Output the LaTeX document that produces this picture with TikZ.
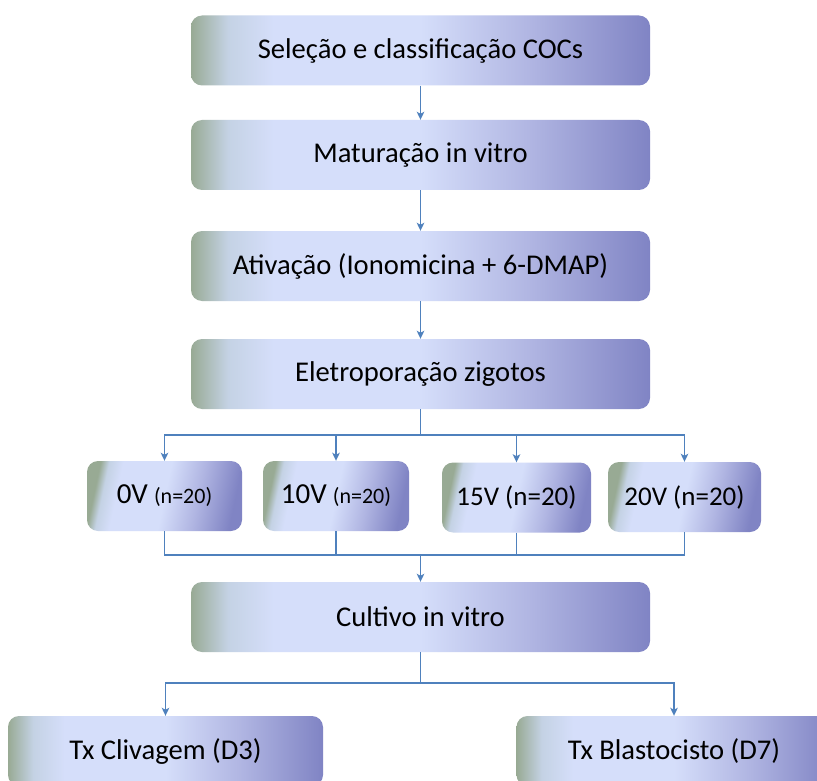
\documentclass[tikz,border=0pt]{standalone}
\usepackage{fontspec}
\setmainfont{Carlito}
\usetikzlibrary{arrows.meta}
\definecolor{gA}{RGB}{152,170,148}
\definecolor{gB}{RGB}{196,210,228}
\definecolor{gC}{RGB}{213,222,250}
\definecolor{gD}{RGB}{176,181,226}
\definecolor{gE}{RGB}{128,132,196}
\definecolor{lnc}{RGB}{79,129,189}
\pgfdeclarehorizontalshading{boxshade}{100bp}{color(0bp)=(gA); color(25bp)=(gA); color(29bp)=(gB); color(34bp)=(gC); color(50bp)=(gC); color(62bp)=(gD); color(75bp)=(gE); color(100bp)=(gE)}
\pgfdeclarehorizontalshading{smallshade}{100bp}{color(0bp)=(gA); color(25bp)=(gA); color(28bp)=(gB); color(33bp)=(gC); color(50bp)=(gC); color(62bp)=(gD); color(75bp)=(gE); color(100bp)=(gE)}
\begin{document}
\begin{tikzpicture}[x=1pt,y=-1pt,
  mainbox/.style={rounded corners=11pt, shading=boxshade, minimum width=459pt, minimum height=70pt, inner sep=0pt, font=\fontsize{28.6}{32}\selectfont, text=black},
  vbox/.style={rounded corners=11pt, shading=smallshade, shading angle=-12, minimum height=70pt, inner sep=0pt, font=\fontsize{27}{32}\selectfont, text=black},
  conn/.style={draw=lnc, line width=1.9pt},
  arr/.style={conn, -{Stealth[length=8pt,width=7.5pt,inset=2pt]}}]
\clip (0,0) rectangle (817,781);
\fill[white] (0,0) rectangle (817,781);
\node[mainbox] (b1) at (420.5,50.5) {Seleção e classificação COCs};
\node[mainbox] (b2) at (420.5,155) {Maturação in vitro};
\node[mainbox] (b3) at (420.5,266) {Ativação (Ionomicina + 6-DMAP)};
\node[mainbox] (b4) at (420.5,374) {Eletroporação zigotos};
\node[vbox, minimum width=155pt] (v0) at (164.5,496) {{\fontsize{29}{32}\selectfont 0V} {\fontsize{22}{26}\selectfont (n=20)}};
\node[vbox, minimum width=146pt] (v10) at (336,496) {{\fontsize{29}{32}\selectfont 10V} {\fontsize{22}{26}\selectfont (n=20)}};
\node[vbox, minimum width=149pt] (v15) at (516.5,497.5) {15V (n=20)};
\node[vbox, minimum width=153pt] (v20) at (684.5,497) {20V (n=20)};
\node[mainbox] (cult) at (420.5,617) {Cultivo in vitro};
\node[mainbox, minimum width=315pt] (tx1) at (165.5,751) {Tx Clivagem (D3)};
\node[mainbox, minimum width=315pt] (tx2) at (674,751) {Tx Blastocisto (D7)};
\coordinate (j1) at (420.5,435);
\coordinate (j2) at (420.5,555);
\coordinate (j3) at (420.5,683);
\draw[arr] (b1.south) -- (b2.north);
\draw[arr] (b2.south) -- (b3.north);
\draw[arr] (b3.south) -- (b4.north);
\draw[conn] (b4.south) -- (j1);
\draw[arr] (j1) -| (v0.north);
\draw[arr] (j1) -| (v10.north);
\draw[arr] (j1) -| (v15.north);
\draw[arr] (j1) -| (v20.north);
\draw[conn] (v0.south) |- (j2);
\draw[conn] (v10.south) |- (j2);
\draw[conn] (v15.south) |- (j2);
\draw[conn] (v20.south) |- (j2);
\draw[arr] (j2) -- (cult.north);
\draw[conn] (cult.south) -- (j3);
\draw[arr] (j3) -| (tx1.north);
\draw[arr] (j3) -| (tx2.north);
\end{tikzpicture}
\end{document}
